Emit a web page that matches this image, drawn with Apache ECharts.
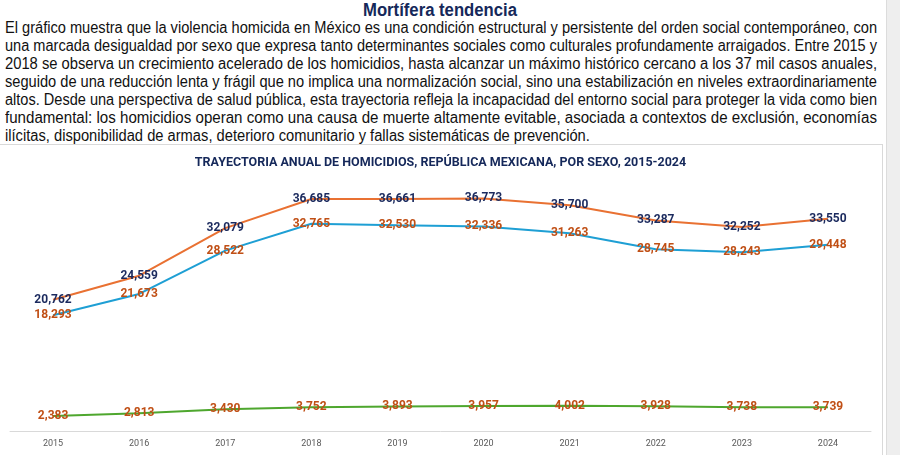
<!DOCTYPE html>
<html><head><meta charset="utf-8">
<script src="https://cdn.jsdelivr.net/npm/echarts@6/dist/echarts.min.js"></script>
<style>
html,body{margin:0;padding:0;width:900px;height:455px;overflow:hidden;background:#fff;}
#title{position:absolute;left:440px;top:0;font-family:"Liberation Sans",Arial,sans-serif;font-weight:bold;font-size:18px;color:#15285A;line-height:20px;white-space:nowrap;transform-origin:0 0;}
#para{position:absolute;left:5px;top:19px;width:872px;font-family:"Liberation Sans",Arial,sans-serif;font-size:16px;color:#111;}
#para div{line-height:18px;height:18px;white-space:nowrap;}
#para span{display:inline-block;transform-origin:0 0;}
#panel{position:absolute;left:0;top:144px;width:883px;height:311px;border-top:1px solid #d9d9d9;border-right:1px solid #d9d9d9;box-sizing:border-box;}
#strip{position:absolute;left:886px;top:0;width:14px;height:455px;background:#eeeeee;border-left:1px solid #dcdcdc;}
#chart{position:absolute;left:0;top:145px;width:881px;height:310px;}
</style></head>
<body>
<div id="title">Mortífera tendencia</div>
<div id="para"></div>
<div id="panel"></div>
<div id="strip"></div>
<div id="chart"></div>
<script>
const paragraphLines = [
 "El gráfico muestra que la violencia homicida en México es una condición estructural y persistente del orden social contemporáneo, con",
 "una marcada desigualdad por sexo que expresa tanto determinantes sociales como culturales profundamente arraigados. Entre 2015 y",
 "2018 se observa un crecimiento acelerado de los homicidios, hasta alcanzar un máximo histórico cercano a los 37 mil casos anuales,",
 "seguido de una reducción lenta y frágil que no implica una normalización social, sino una estabilización en niveles extraordinariamente",
 "altos. Desde una perspectiva de salud pública, esta trayectoria refleja la incapacidad del entorno social para proteger la vida como bien",
 "fundamental: los homicidios operan como una causa de muerte altamente evitable, asociada a contextos de exclusión, economías",
 "ilícitas, disponibilidad de armas, deterioro comunitario y fallas sistemáticas de prevención."
];
const years = ["2015","2016","2017","2018","2019","2020","2021","2022","2023","2024"];
const total = [20762,24559,32079,36685,36661,36773,35700,33287,32252,33550];
const hombres = [18293,21673,28522,32765,32530,32336,31263,28745,28243,29448];
const mujeres = [2383,2813,3430,3752,3893,3957,4002,3928,3738,3739];

// paragraph: condensed look via horizontal scaling, full-justified lines
const para = document.getElementById('para');
const spans = [];
paragraphLines.forEach(t=>{
  const d = document.createElement('div');
  const s = document.createElement('span');
  s.textContent = t;
  d.appendChild(s); para.appendChild(d); spans.push(s);
});
const target = 872;
let scales = [];
spans.forEach((s,i)=>{
  if(i===spans.length-1) return;
  const w = s.getBoundingClientRect().width;
  const k = target / w; scales.push(k);
  s.style.transform = 'scaleX(' + k + ')';
});
const avg = scales.reduce((a,b)=>a+b,0)/scales.length;
spans[spans.length-1].style.transform = 'scaleX(' + avg + ')';

const tEl = document.getElementById('title');
const tw = tEl.getBoundingClientRect().width;
const tk = 154 / tw;
tEl.style.transform = 'scaleX(' + tk + ')';
tEl.style.left = (440 - 77) + 'px';

const fmt = p => Number(p.value).toLocaleString('en-US');
const navy = '#1B2A5E', orangeTxt = '#C04F15';
function lbl(color){
  return {show:true, position:'inside', formatter:fmt, color:color,
    fontFamily:'Roboto, "Liberation Sans", sans-serif', fontWeight:'bold', fontSize:12};
}
const chart = echarts.init(document.getElementById('chart'), null, {renderer:'canvas'});
chart.setOption({
  animation:false,
  title:{text:'TRAYECTORIA ANUAL DE HOMICIDIOS, REPÚBLICA MEXICANA, POR SEXO, 2015-2024',
    left:'center', top:6,
    textStyle:{fontFamily:'Roboto, "Liberation Sans", sans-serif', fontWeight:'bold', fontSize:12.5, color:'#15285A'}},
  grid:{left:10, right:10, top:33, bottom:24},
  xAxis:{type:'category', data:years, boundaryGap:true,
    axisLine:{lineStyle:{color:'#d9d9d9'}}, axisTick:{show:false},
    axisLabel:{color:'#595959', fontSize:9, margin:8, fontFamily:'Roboto, sans-serif'}},
  yAxis:{type:'value', min:0, max:40000, show:false, splitLine:{show:false}},
  series:[
    {name:'Total', type:'line', data:total, symbol:'circle', symbolSize:0, showSymbol:true,
      lineStyle:{color:'#E97132', width:2}, itemStyle:{color:'#E97132'}, label:lbl(navy)},
    {name:'Hombres', type:'line', data:hombres, symbol:'circle', symbolSize:0, showSymbol:true,
      lineStyle:{color:'#1E9FD4', width:2}, itemStyle:{color:'#1E9FD4'}, label:lbl(orangeTxt)},
    {name:'Mujeres', type:'line', data:mujeres, symbol:'circle', symbolSize:0, showSymbol:true,
      lineStyle:{color:'#4EA72E', width:2}, itemStyle:{color:'#4EA72E'}, label:lbl(orangeTxt)}
  ]
});
</script>
</body></html>
